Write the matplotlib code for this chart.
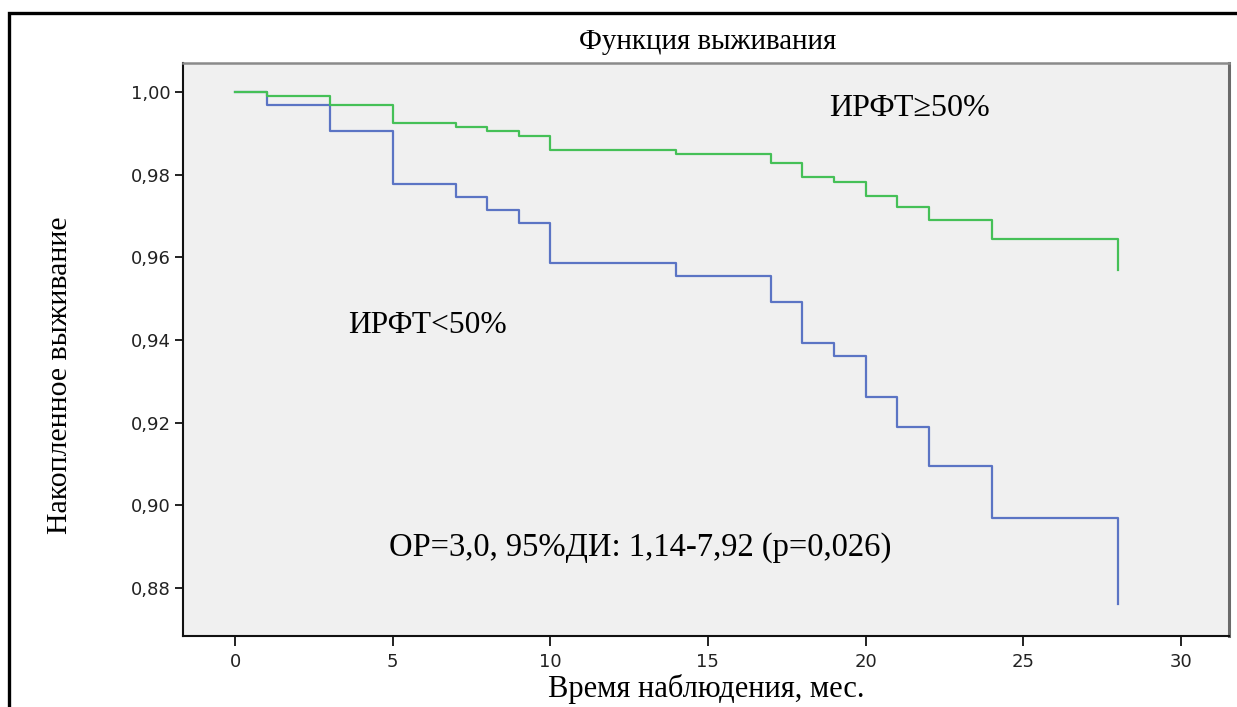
import numpy as np
import matplotlib.pyplot as plt
from matplotlib.patches import Rectangle
from matplotlib.ticker import FuncFormatter

# Kaplan-Meier steps (months, cumulative survival)
times = [0, 1, 3, 5, 7, 8, 9, 10, 14, 17, 18, 19, 20, 21, 22, 24, 28]
surv_low = [1.0, 0.9969, 0.9906, 0.9778, 0.9747, 0.9715, 0.9682, 0.9587, 0.9556,
            0.9491, 0.9393, 0.9361, 0.9262, 0.9190, 0.9094, 0.8969, 0.8761]
surv_high = [1.0, 0.9990, 0.9969, 0.9926, 0.9915, 0.9905, 0.9894, 0.9860, 0.9850,
             0.9829, 0.9794, 0.9783, 0.9748, 0.9723, 0.9690, 0.9644, 0.9569]

x_ticks = [0, 5, 10, 15, 20, 25, 30]
y_ticks = [0.88, 0.90, 0.92, 0.94, 0.96, 0.98, 1.00]

label_low = "ИРФТ<50%"
label_high = "ИРФТ≥50%"
stats_text = "ОР=3,0, 95%ДИ: 1,14-7,92 (p=0,026)"

serif = ['Liberation Serif', 'DejaVu Serif']

W, H = 1237, 707
fig = plt.figure(figsize=(W / 100, H / 100), dpi=100)
fig.patch.set_facecolor('white')

# outer black frame (runs off the right and bottom edges)
fig.patches.append(Rectangle((8.5 / W, -0.05), 1.2, (H - 13) / H + 0.05,
                             transform=fig.transFigure, fill=False,
                             edgecolor='black', lw=2.4, clip_on=False))

ax = fig.add_axes([183 / W, 1 - 636 / H, 1046 / W, 573 / H])
ax.set_facecolor('#f0f0f0')

ax.step(times, surv_low, where='post', color='#5b74c4', lw=1.6)
ax.step(times, surv_high, where='post', color='#45c057', lw=1.6)

ax.set_xlim(-1.65, 31.53)
ax.set_ylim(0.86839, 1.00702)
ax.set_xticks(x_ticks)
ax.set_yticks(y_ticks)
ax.xaxis.set_major_formatter(FuncFormatter(lambda v, p: f"{v:.0f}"))
ax.yaxis.set_major_formatter(FuncFormatter(lambda v, p: f"{v:.2f}".replace('.', ',')))
ax.tick_params(direction='out', length=6, width=1.4, labelsize=13,
               colors='#222222', pad=3)
ax.tick_params(axis='x', length=7, pad=5)

for side in ['left', 'bottom']:
    ax.spines[side].set_color('#111111')
    ax.spines[side].set_linewidth(1.5)
ax.spines['top'].set_color('#8a8a8a')
ax.spines['top'].set_linewidth(1.8)
ax.spines['right'].set_color('#6a6a6a')
ax.spines['right'].set_linewidth(2.2)

ax.text(21.4, 0.9961, label_high, family=serif, fontsize=23, ha='center', va='center')
ax.text(6.09, 0.9434, label_low, family=serif, fontsize=22.7, ha='center', va='center')
ax.text(12.85, 0.8897, stats_text, family=serif, fontsize=23.5, ha='center', va='center')

fig.text(708 / W, 1 - 42 / H, "Функция выживания", family=serif, fontsize=20.9,
         ha='center', va='center')
fig.text(706 / W, 1 - 689 / H, "Время наблюдения, мес.", family=serif, fontsize=22,
         ha='center', va='center')
fig.text(60 / W, 1 - 375 / H, "Накопленное выживание", family=serif, fontsize=21.5,
         ha='center', va='center', rotation=90)

fig.savefig('out.png', dpi=100)
